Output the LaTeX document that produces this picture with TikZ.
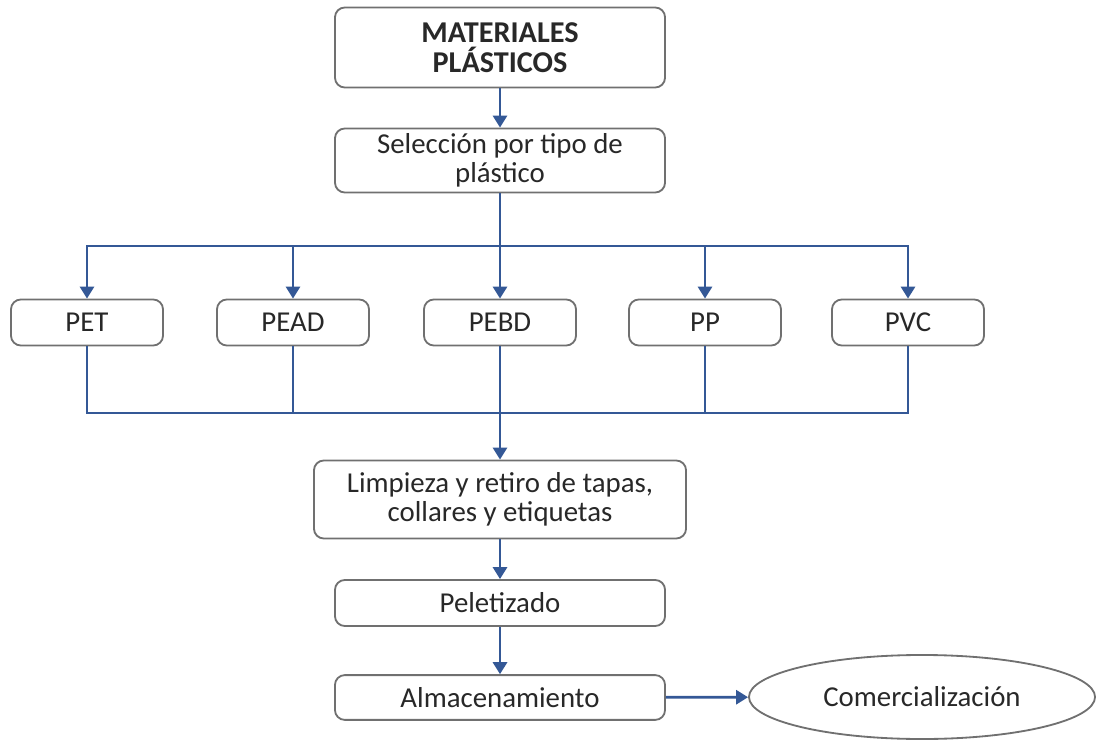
\documentclass[tikz,border=0pt]{standalone}
\usepackage{fontspec}
\setmainfont{Carlito}
\usetikzlibrary{arrows.meta,shapes.geometric}
\definecolor{flowblue}{RGB}{52,88,150}
\definecolor{boxgray}{RGB}{112,112,112}
\definecolor{txtgray}{RGB}{40,40,40}
\tikzset{
	box/.style={draw=boxgray, line width=1.3pt, rounded corners=7pt, fill=white, align=center, text=txtgray, font=\fontsize{20.5}{21}\selectfont, inner sep=2pt},
	flow/.style={draw=flowblue, line width=1.9pt},
	flowarrow/.style={flow, -{Triangle[width=10pt,length=8.5pt]}},
}

\begin{document}
\begin{tikzpicture}[x=0.025cm, y=-0.025cm]
		%%%%% START %%%%%
		
		\useasboundingbox (0, 0) rectangle (1096, 740);
		
		\node[box, minimum width=8.25cm, minimum height=2.0cm, font=\fontsize{21.5}{21}\selectfont\bfseries] (mat) at (500, 47.5) {MATERIALES\\PLÁSTICOS};
		\node[box, minimum width=8.25cm, minimum height=1.6cm] (sel) at (500, 160.5) {Selección por tipo de\\plástico};
		
		\node[box, minimum width=3.8cm, minimum height=1.15cm] (pet) at (87, 322.5) {PET};
		\node[box, minimum width=3.8cm, minimum height=1.15cm] (pead) at (293, 322.5) {PEAD};
		\node[box, minimum width=3.8cm, minimum height=1.15cm] (pebd) at (500, 322.5) {PEBD};
		\node[box, minimum width=3.8cm, minimum height=1.15cm] (pp) at (705, 322.5) {PP};
		\node[box, minimum width=3.8cm, minimum height=1.15cm] (pvc) at (908, 322.5) {PVC};
		
		\node[box, minimum width=9.3cm, minimum height=1.95cm] (lim) at (500, 499.5) {Limpieza y retiro de tapas,\\collares y etiquetas};
		\node[box, minimum width=8.25cm, minimum height=1.15cm] (pel) at (500, 603) {Peletizado};
		\node[box, minimum width=8.25cm, minimum height=1.12cm] (alm) at (500, 697.5) {Almacenamiento};
		\node[draw=boxgray, line width=1.3pt, ellipse, minimum width=8.65cm, minimum height=2.1cm, inner sep=0pt, text=txtgray, font=\fontsize{20.5}{21}\selectfont] (com) at (922, 697) {Comercialización};
		
		\coordinate (bustop) at (500, 246);
		\coordinate (busbot) at (500, 413);
		
		\draw[flowarrow] (mat) -- (sel);
		\draw[flow] (sel) -- (bustop);
		\foreach \n in {pet, pead, pp, pvc}
			\draw[flowarrow] (bustop) -| (\n.north);
		\draw[flowarrow] (bustop) -- (pebd);
		
		\foreach \n in {pet, pead, pp, pvc}
			\draw[flow] (\n.south) |- (busbot);
		\draw[flowarrow] (pebd) -- (lim);
		
		\draw[flowarrow] (lim) -- (pel);
		\draw[flowarrow] (pel) -- (alm);
		\draw[flowarrow] (alm) -- (com);
		
		%%%%% END %%%%%
	\end{tikzpicture}
\end{document}
